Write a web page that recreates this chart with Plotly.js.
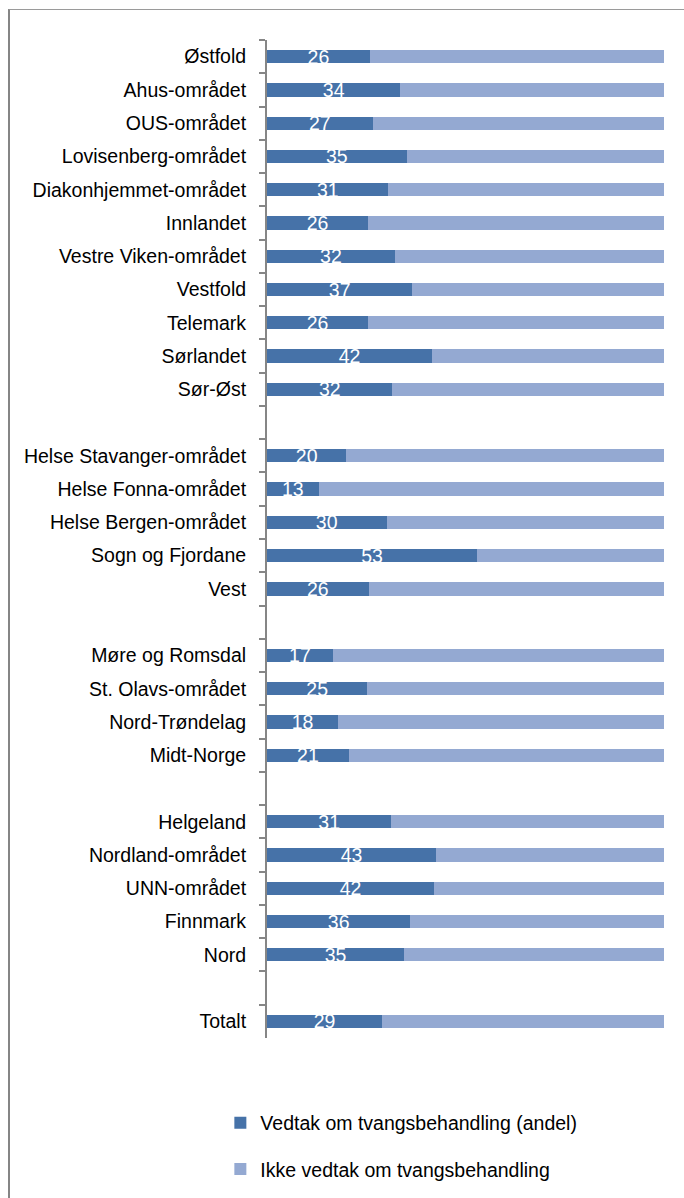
<!DOCTYPE html>
<html>
<head>
<meta charset="utf-8">
<script src="https://cdn.plot.ly/plotly-3.0.1.min.js"></script>
<style>
  html, body { margin: 0; padding: 0; background: #fff; overflow: hidden; }
  #chart { position: absolute; left: 0; top: 0; width: 684px; height: 1198px; }
  #frame { position: absolute; left: 8px; top: 9px; width: 720px; height: 1300px;
           border-left: 2px solid #858585; border-top: 1px solid #9a9a9a; pointer-events: none; }
</style>
</head>
<body>
<div id="chart"></div>
<div id="frame"></div>
<script>
// Categories (empty strings are blank spacer rows between regions)
const categories = [
  "Østfold", "Ahus-området", "OUS-området", "Lovisenberg-området", "Diakonhjemmet-området",
  "Innlandet", "Vestre Viken-området", "Vestfold", "Telemark", "Sørlandet", "Sør-Øst",
  "",
  "Helse Stavanger-området", "Helse Fonna-området", "Helse Bergen-området", "Sogn og Fjordane", "Vest",
  "",
  "Møre og Romsdal", "St. Olavs-området", "Nord-Trøndelag", "Midt-Norge",
  "",
  "Helgeland", "Nordland-området", "UNN-området", "Finnmark", "Nord",
  "",
  "Totalt"
];
// Share with decision on compulsory treatment (%), null for spacer rows
const vedtak = [
  25.9, 33.6, 26.6, 35.2, 30.6,
  25.5, 32.2, 36.6, 25.5, 41.6, 31.6,
  null,
  20.0, 13.0, 30.1, 52.9, 25.6,
  null,
  16.6, 25.3, 17.9, 20.6,
  null,
  31.3, 42.6, 42.1, 36.1, 34.6,
  null,
  29.0
];
const seriesNames = ["Vedtak om tvangsbehandling (andel)", "Ikke vedtak om tvangsbehandling"];
const colors = ["#4672A8", "#94A9D2"];

// unique keys for blank rows
let blankCount = 0;
const yKeys = categories.map(c => c === "" ? " ".repeat(++blankCount) : c);
const ikke = vedtak.map(v => v === null ? null : 100 - v);
const labels = vedtak.map(v => v === null ? "" : String(Math.round(v)));

const font = "Liberation Sans, Arial, sans-serif";

const traces = [
  {
    type: "bar", orientation: "h", name: seriesNames[0],
    y: yKeys, x: vedtak, text: labels,
    textposition: "inside", insidetextanchor: "middle", textangle: 0,
    textfont: { color: "#ffffff", size: 19.5, family: font },
    marker: { color: colors[0] },
    legendgroup: "a", hoverinfo: "none", cliponaxis: false
  },
  {
    type: "bar", orientation: "h", name: seriesNames[1],
    y: yKeys, x: ikke, textposition: "none",
    marker: { color: colors[1] },
    legendgroup: "b", hoverinfo: "none"
  }
];

const layout = {
  width: 684, height: 1198,
  margin: { l: 266.7, r: 20, t: 40, b: 160, pad: 0, autoexpand: false },
  paper_bgcolor: "rgba(0,0,0,0)", plot_bgcolor: "rgba(0,0,0,0)",
  barmode: "stack", bargap: 0.6,
  font: { family: font, size: 19.5, color: "#000000" },
  uniformtext: { minsize: 19.5, mode: "show" },
  xaxis: {
    range: [0, 100], showgrid: false, zeroline: false, showline: false,
    showticklabels: false, ticks: "", fixedrange: true
  },
  yaxis: {
    type: "category", categoryorder: "array", categoryarray: yKeys,
    autorange: "reversed",
    showline: true, linecolor: "#868686", linewidth: 2,
    ticks: "outside", tickson: "boundaries", ticklen: 6, tickcolor: "#868686", tickwidth: 2,
    ticklabelstandoff: 15,
    showgrid: false, zeroline: false,
    tickfont: { family: font, size: 19.5, color: "#000000" }
  },
  showlegend: true,
  legend: {
    orientation: "v", traceorder: "grouped", tracegroupgap: 18,
    x: -0.1175, xanchor: "left", y: -0.0656, yanchor: "top",
    font: { family: font, size: 19.5, color: "#000000" },
    bgcolor: "rgba(0,0,0,0)", borderwidth: 0
  }
};

Plotly.newPlot("chart", traces, layout, { displayModeBar: false, staticPlot: true });
</script>
</body>
</html>
